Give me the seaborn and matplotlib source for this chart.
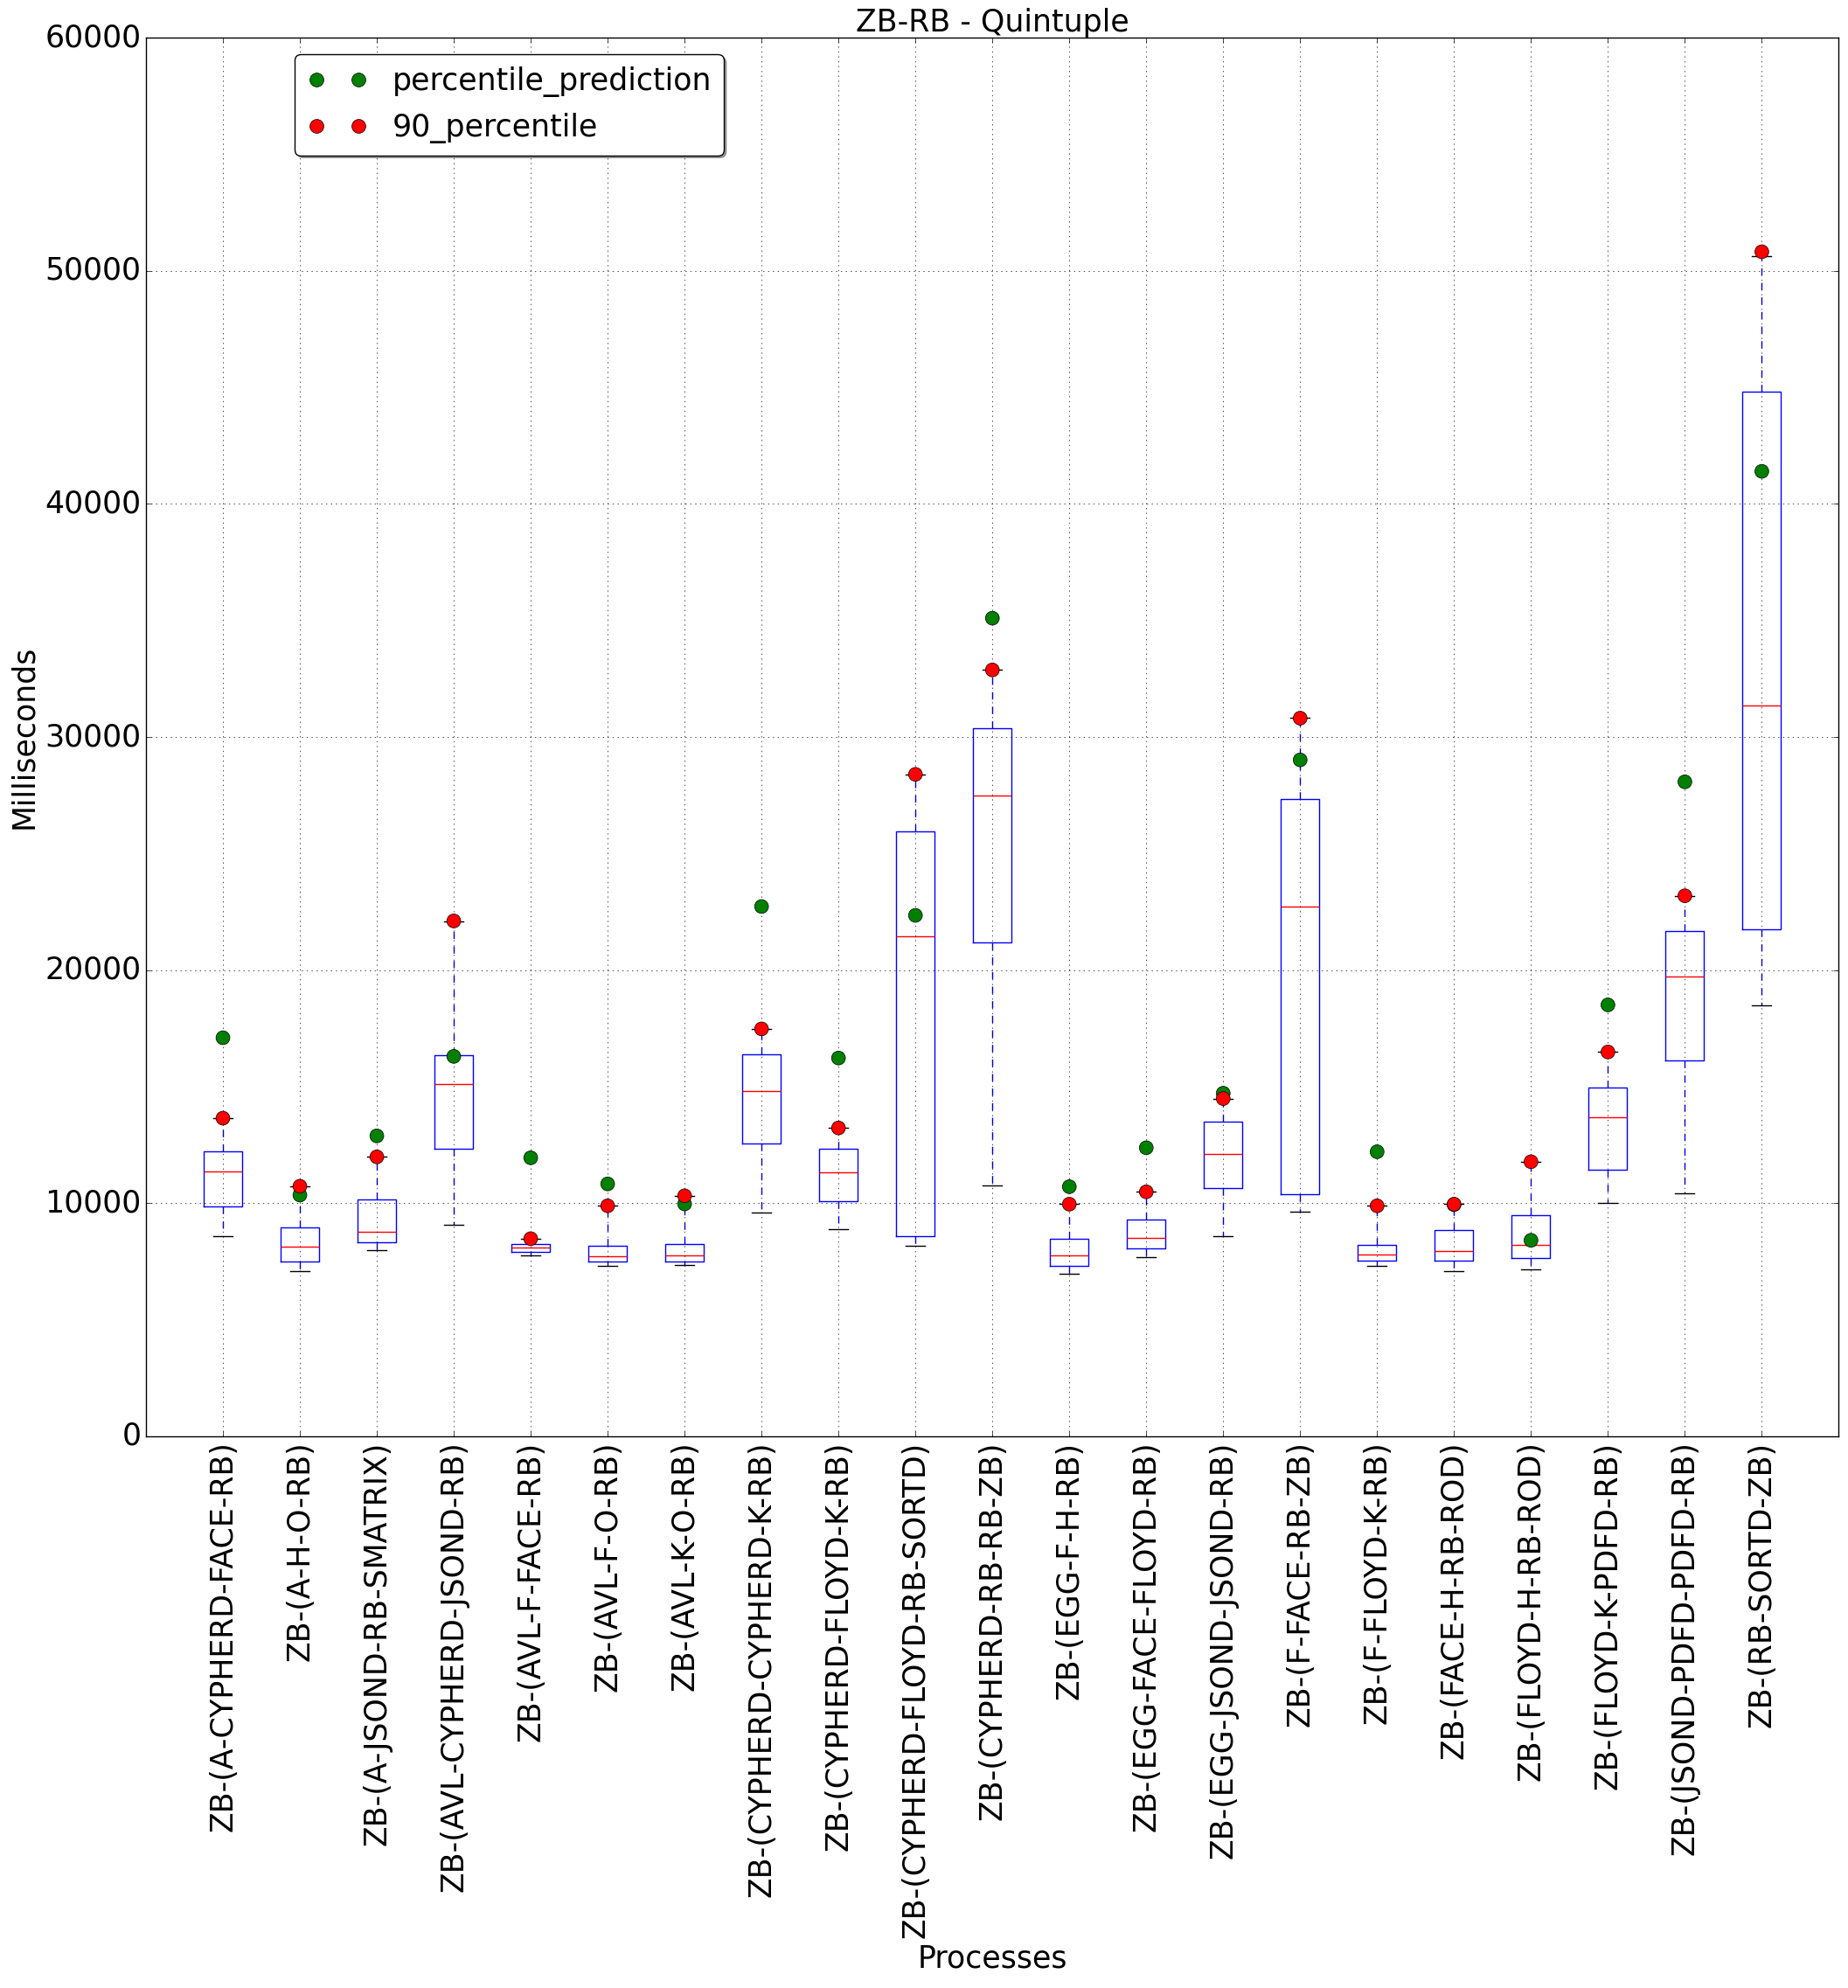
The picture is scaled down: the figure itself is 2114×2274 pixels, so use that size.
import pandas as pd
import numpy as np
import matplotlib
matplotlib.use("Agg")
import matplotlib.pyplot as plt
import seaborn as sns

# process names (x axis)
processes = [
    "ZB-(A-CYPHERD-FACE-RB)", "ZB-(A-H-O-RB)", "ZB-(A-JSOND-RB-SMATRIX)",
    "ZB-(AVL-CYPHERD-JSOND-RB)", "ZB-(AVL-F-FACE-RB)", "ZB-(AVL-F-O-RB)",
    "ZB-(AVL-K-O-RB)", "ZB-(CYPHERD-CYPHERD-K-RB)", "ZB-(CYPHERD-FLOYD-K-RB)",
    "ZB-(CYPHERD-FLOYD-RB-SORTD)", "ZB-(CYPHERD-RB-RB-ZB)", "ZB-(EGG-F-H-RB)",
    "ZB-(EGG-FACE-FLOYD-RB)", "ZB-(EGG-JSOND-JSOND-RB)", "ZB-(F-FACE-RB-ZB)",
    "ZB-(F-FLOYD-K-RB)", "ZB-(FACE-H-RB-ROD)", "ZB-(FLOYD-H-RB-ROD)",
    "ZB-(FLOYD-K-PDFD-RB)", "ZB-(JSOND-PDFD-PDFD-RB)", "ZB-(RB-SORTD-ZB)",
]

# box statistics (milliseconds)
whislo = [8580, 7080, 7970, 9080, 7780, 7300, 7360, 9600, 8870, 8160, 10750,
          6960, 7680, 8580, 9630, 7300, 7080, 7160, 10000, 10420, 18500]
q1 = [9850, 7490, 8310, 12330, 7930, 7490, 7490, 12560, 10080, 8600, 21180,
      7300, 8050, 10640, 10380, 7530, 7530, 7650, 11430, 16110, 21770]
median = [11350, 8130, 8760, 15100, 8090, 7720, 7760, 14820, 11320, 21450, 27480,
          7750, 8500, 12110, 22710, 7790, 7940, 8200, 13680, 19720, 31340]
q3 = [12230, 8950, 10180, 16340, 8240, 8160, 8240, 16370, 12330, 25970, 30380,
      8460, 9290, 13500, 27330, 8200, 8840, 9490, 14970, 21660, 44800]
whishi = [13650, 10730, 11990, 22100, 8480, 9890, 10320, 17480, 13230, 28400, 32880,
          9960, 10490, 14490, 30810, 9890, 9960, 11780, 16490, 23190, 50630]

# dots
percentile_90 = [13650, 10730, 11990, 22110, 8480, 9890, 10320, 17480, 13230, 28400, 32880,
                 9960, 10490, 14490, 30810, 9890, 9960, 11780, 16490, 23190, 50820]
percentile_prediction = [17100, 10350, 12890, 16300, 11950, 10830, 9970, 22730, 16230, 22350, 35100,
                         10710, 12380, 14720, 29020, 12210, 9940, 8410, 18510, 28080, 41400]

FS = 25

plt.style.use("classic")
plt.rcParams["font.size"] = FS
plt.rcParams["savefig.facecolor"] = "white"

fig, ax = plt.subplots(figsize=(21.14, 22.74), dpi=100)
fig.patch.set_facecolor("white")
fig.subplots_adjust(left=0.079, right=0.995, top=0.981, bottom=0.2775)

positions = np.arange(1, len(processes) + 1)

stats = []
for i in range(len(processes)):
    stats.append({"med": median[i], "q1": q1[i], "q3": q3[i],
                  "whislo": whislo[i], "whishi": whishi[i], "fliers": []})
ax.bxp(stats, positions=positions, widths=0.5, showfliers=False)

# points: prediction first so the 90th percentile sits on top
df = pd.DataFrame({
    "pos": np.concatenate([positions, positions]),
    "value": percentile_prediction + percentile_90,
    "series": ["percentile_prediction"] * len(positions) + ["90_percentile"] * len(positions),
})
sns.scatterplot(data=df, x="pos", y="value", hue="series",
                palette={"percentile_prediction": "green", "90_percentile": "red"},
                s=130, edgecolor="k", linewidth=0.5, zorder=5, ax=ax)

ax.set_xlim(0, len(processes) + 1)
ax.set_ylim(0, 60000)
ax.set_yticks(np.arange(0, 60001, 10000))
ax.set_xticks(positions)
ax.set_xticklabels(processes, rotation=90, fontsize=FS)
ax.tick_params(axis="y", labelsize=FS)
ax.grid(True, linestyle=":", color="k", linewidth=0.5)

ax.set_title("ZB-RB - Quintuple", fontsize=FS)
ax.set_xlabel("Processes", fontsize=FS)
ax.set_ylabel("Milliseconds", fontsize=FS)

handles, labels = ax.get_legend_handles_labels()
ax.legend(handles, labels, loc="upper left", bbox_to_anchor=(0.088, 0.988),
          borderaxespad=0, numpoints=2, scatterpoints=2,
          fancybox=True, shadow=True, fontsize=FS)

fig.savefig("out.png", dpi=100)
